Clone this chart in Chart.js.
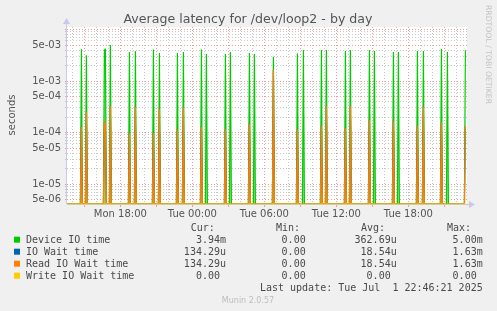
<!DOCTYPE html>
<html>
<head>
<meta charset="utf-8">
<script src="https://cdn.jsdelivr.net/npm/chart.js@4/dist/chart.umd.min.js"></script>
<style>
  body { margin: 0; background: #f0f0f0; }
  canvas { display: block; }
</style>
</head>
<body>
<canvas id="myChart" width="497" height="311"></canvas>
<script>
// minutes since Mon 00:00, one sample every 5 minutes
const startMinute = 815;
const endMinute = 2805;
const spikeTimes = [885, 910, 1000, 1005, 1030, 1125, 1155, 1245, 1275, 1365, 1395, 1485, 1510,
  1605, 1630, 1725, 1750, 1845, 1965, 1995, 2085, 2110, 2205, 2230, 2325, 2350, 2445, 2470,
  2565, 2595, 2685, 2715, 2805];
const deviceIO = [4.13e-3, 3.16e-3, 4.0e-3, 4.13e-3, 5.0e-3, 3.66e-3, 3.83e-3, 4.1e-3, 3.5e-3,
  3.5e-3, 3.66e-3, 4.1e-3, 3.35e-3, 3.35e-3, 3.66e-3, 3.5e-3, 3.35e-3, 2.97e-3, 3.43e-3, 4.0e-3,
  4.0e-3, 4.0e-3, 3.83e-3, 4.0e-3, 4.0e-3, 3.83e-3, 3.66e-3, 3.66e-3, 3.83e-3, 3.83e-3, 4.2e-3,
  3.66e-3, 3.94e-3];
const readWait = [1.3e-4, 2.6e-4, 1.6e-4, 1.5e-4, 3.3e-4, 9.9e-5, 3.2e-4, 9.9e-5, 2.9e-4,
  1.16e-4, 3.1e-4, 1.3e-4, 0, 1.16e-4, 0, 1.5e-4, 0, 1.63e-3, 1.16e-4, 0, 1.35e-4, 3.3e-4,
  1.23e-4, 3.3e-4, 1.76e-4, 0, 1.69e-4, 0, 1.35e-4, 3.2e-4, 1.6e-4, 0, 1.3429e-4];
const ioWait = readWait.slice(); // same values as read wait
const writeWait = spikeTimes.map(() => 0);

// a log axis cannot show 0, so zero samples sit on the axis floor
const yMin = 4.1e-6;
const yMax = 1.12e-2;

const yTicks = [];
for (let d = -6; d <= -2; d++) {
  for (let m = 1; m <= 9; m++) yTicks.push(m * Math.pow(10, d));
}
const xTicks = [];
for (let m = 840; m <= 2760; m += 60) xTicks.push(m);

const legendNames = ["Device IO time", "IO Wait time", "Read IO Wait time", "Write IO Wait time"];
const legendColors = ["#00cc00", "#0066b3", "#ff8000", "#ffcc00"];
const curVals = ["3.94m", "134.29u", "134.29u", "0.00 "];
const minVals = ["0.00 ", "0.00 ", "0.00 ", "0.00 "];
const avgVals = ["362.69u", "18.54u", "18.54u", "0.00 "];
const maxVals = ["5.00m", "1.63m", "1.63m", "0.00 "];

function series(vals) {
  const out = [];
  for (let t = startMinute; t <= endMinute; t += 5) {
    const i = spikeTimes.indexOf(t);
    const v = i >= 0 ? vals[i] : 0;
    out.push({ x: t, y: v > yMin ? v : yMin });
  }
  return out;
}

function mantissa(v) {
  const e = Math.floor(Math.log10(v) + 1e-9);
  return Math.round(v / Math.pow(10, e));
}

const RED = "#f09a9a";
const GREY = "#c8c8c8";

const extras = {
  id: "extras",
  beforeDraw(chart) {
    const { ctx, chartArea: a } = chart;
    ctx.save();
    ctx.fillStyle = "#ffffff";
    ctx.fillRect(a.left, a.top, a.right - a.left, a.bottom - a.top);
    ctx.restore();
  },
  afterDatasetsDraw(chart) {
    const { ctx, chartArea: a } = chart;
    ctx.save();
    // axes
    ctx.strokeStyle = "#c8c8ee";
    ctx.lineWidth = 1;
    ctx.beginPath();
    ctx.moveTo(a.left - 0.5, a.top - 5);
    ctx.lineTo(a.left - 0.5, a.bottom);
    ctx.stroke();
    ctx.fillStyle = "#c8c8ee";
    ctx.beginPath();
    ctx.moveTo(a.left - 0.5, a.top - 9);
    ctx.lineTo(a.left - 4, a.top - 3);
    ctx.lineTo(a.left + 3, a.top - 3);
    ctx.fill();
    ctx.beginPath();
    ctx.moveTo(a.right + 8, a.bottom + 0.5);
    ctx.lineTo(a.right + 2, a.bottom - 3);
    ctx.lineTo(a.right + 2, a.bottom + 4);
    ctx.fill();
    ctx.strokeStyle = "#d8cc90";
    ctx.beginPath();
    ctx.moveTo(a.left, a.bottom + 0.5);
    ctx.lineTo(a.right + 2, a.bottom + 0.5);
    ctx.stroke();

    // title
    ctx.fillStyle = "#555";
    ctx.font = "12.6px 'DejaVu Sans'";
    ctx.textAlign = "center";
    ctx.fillText("Average latency for /dev/loop2 - by day", 248, 23);

    // y title
    ctx.font = "10px 'DejaVu Sans'";
    ctx.save();
    ctx.translate(14.5, 115);
    ctx.rotate(-Math.PI / 2);
    ctx.fillText("seconds", 0, 0);
    ctx.restore();

    // side text
    ctx.save();
    ctx.fillStyle = "#c4c4c4";
    ctx.font = "7.7px 'DejaVu Sans'";
    ctx.textAlign = "left";
    ctx.translate(485.5, 5);
    ctx.rotate(Math.PI / 2);
    ctx.fillText("RRDTOOL / TOBI OETIKER", 0, 0);
    ctx.restore();

    // legend
    ctx.font = "10px 'DejaVu Sans Mono'";
    ctx.fillStyle = "#4a4a4a";
    ctx.textAlign = "left";
    ctx.fillText("Cur:", 190.7, 231);
    ctx.fillText("Min:", 276, 231);
    ctx.fillText("Avg:", 361, 231);
    ctx.fillText("Max:", 447, 231);
    legendNames.forEach((name, i) => {
      const y = 243.3 + i * 12;
      ctx.fillStyle = legendColors[i];
      ctx.fillRect(14, y - 6.6, 6, 6);
      ctx.fillStyle = "#4a4a4a";
      ctx.textAlign = "left";
      ctx.fillText(name, 26, y);
      ctx.textAlign = "right";
      ctx.fillText(curVals[i], 226, y);
      ctx.fillText(minVals[i], 311.7, y);
      ctx.fillText(avgVals[i], 396.7, y);
      ctx.fillText(maxVals[i], 482.7, y);
    });
    ctx.textAlign = "right";
    ctx.fillText("Last update: Tue Jul  1 22:46:21 2025", 482.7, 291.3);

    ctx.textAlign = "center";
    ctx.fillStyle = "#bdbdbd";
    ctx.font = "8px 'DejaVu Sans'";
    ctx.fillText("Munin 2.0.57", 248, 303);
    ctx.restore();
  }
};

const ctx = document.getElementById("myChart").getContext("2d");
const chart = new Chart(ctx, {
  type: "line",
  data: {
    datasets: [
      {
        label: "Device IO time",
        data: series(deviceIO),
        borderColor: "#00cc00",
        backgroundColor: "rgba(0, 204, 0, 0.45)",
        fill: "start",
        borderWidth: 1.2,
        order: 4
      },
      {
        label: "IO Wait time",
        data: series(ioWait),
        borderColor: "#0066b3",
        borderWidth: 1,
        order: 3
      },
      {
        label: "Read IO Wait time",
        data: series(readWait),
        borderColor: "#ff8000",
        backgroundColor: "rgba(255, 128, 0, 0.3)",
        fill: "start",
        borderWidth: 1.2,
        order: 2
      },
      {
        label: "Write IO Wait time",
        data: series(writeWait),
        borderColor: "#ffcc00",
        borderWidth: 1,
        order: 1
      }
    ]
  },
  options: {
    responsive: false,
    animation: false,
    events: [],
    elements: { point: { radius: 0 }, line: { tension: 0 } },
    layout: { padding: { top: 27, right: 30, left: 0, bottom: 0 } },
    plugins: { legend: { display: false }, tooltip: { enabled: false } },
    scales: {
      x: {
        type: "linear",
        min: 813,
        max: 2813,
        afterFit: s => { s.height = 107; },
        afterBuildTicks: s => { s.ticks = xTicks.map(v => ({ value: v })); },
        border: { display: false, dash: [1, 2] },
        grid: {
          color: c => (c.tick && c.tick.value % 180 === 0 ? RED : GREY),
          tickColor: c => (c.tick && c.tick.value % 180 === 0 ? RED : "rgba(0,0,0,0)"),
          tickLength: 3
        },
        ticks: {
          autoSkip: false,
          maxRotation: 0,
          padding: 1,
          color: "#555",
          font: { family: "DejaVu Sans", size: 10 },
          callback: v => {
            if (v % 360 !== 0) return "";
            const day = v < 1440 ? "Mon" : "Tue";
            const h = (v % 1440) / 60;
            return day + " " + String(h).padStart(2, "0") + ":00";
          }
        }
      },
      y: {
        type: "logarithmic",
        min: yMin,
        max: yMax,
        afterFit: s => { s.width = 67; },
        afterBuildTicks: s => {
          s.ticks = yTicks.filter(v => v >= s.min && v <= s.max).map(v => ({ value: v }));
        },
        border: { display: false, dash: [1, 2] },
        grid: {
          color: c => {
            const m = c.tick ? mantissa(c.tick.value) : 0;
            return m === 1 || m === 5 ? RED : GREY;
          },
          tickLength: 2
        },
        ticks: {
          autoSkip: false,
          padding: 4,
          color: "#555",
          font: { family: "DejaVu Sans", size: 10 },
          callback: v => {
            const e = Math.floor(Math.log10(v) + 1e-9);
            const m = mantissa(v);
            if ((m !== 1 && m !== 5) || e >= -2) return "";
            return m + "e-" + String(-e).padStart(2, "0");
          }
        }
      }
    }
  },
  plugins: [extras]
});
</script>
</body>
</html>
